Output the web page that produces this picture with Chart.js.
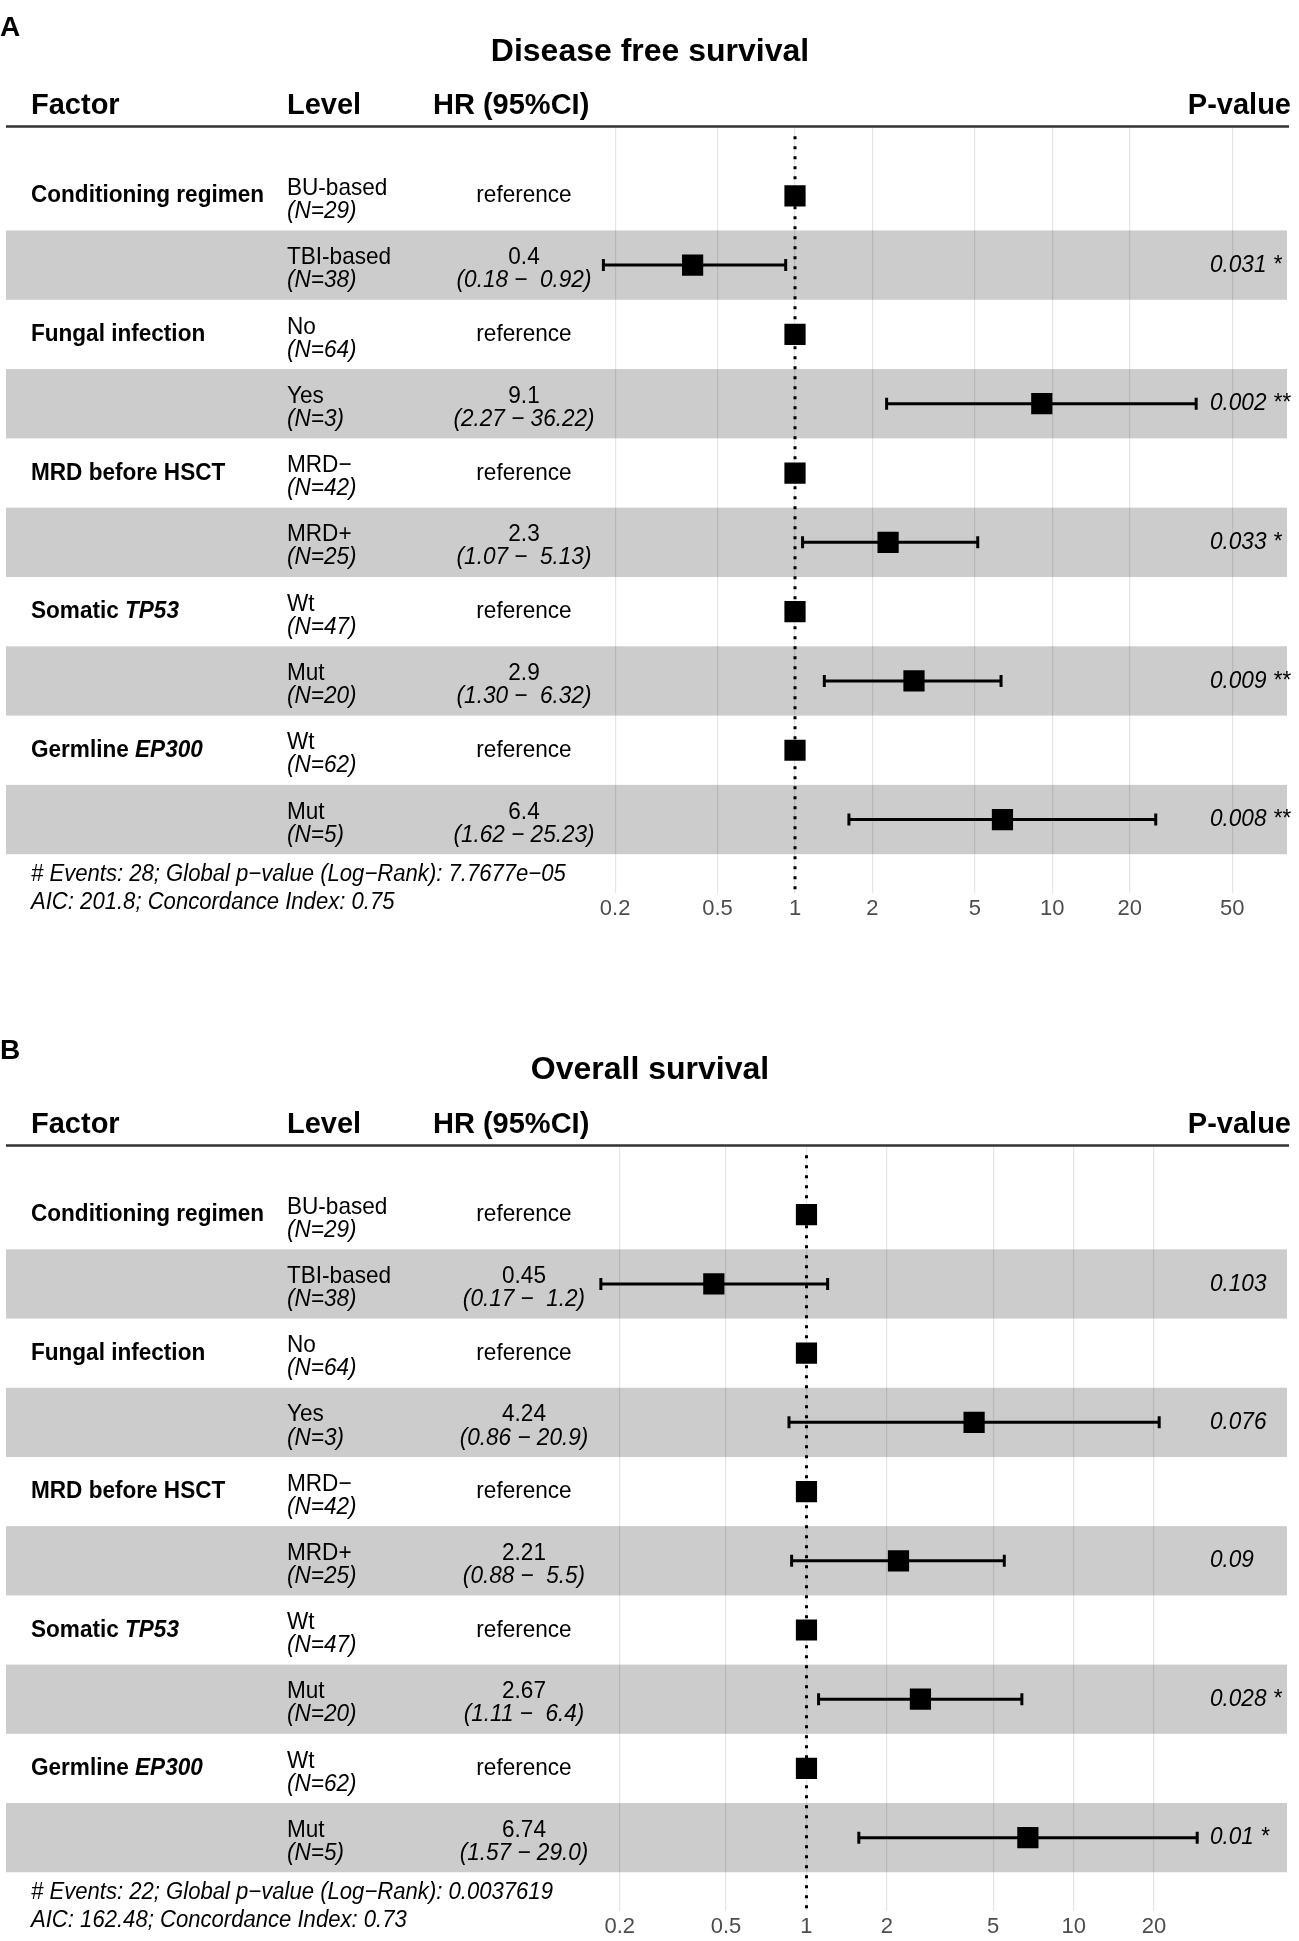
<!DOCTYPE html>
<html>
<head>
<meta charset="utf-8">
<script src="https://cdn.jsdelivr.net/npm/chart.js@4.4.1/dist/chart.umd.min.js"></script>
<style>
  body { margin: 0; background: #fff; }
  canvas { display: block; }
</style>
</head>
<body>
<canvas id="dfs" width="1299" height="1000"></canvas>
<canvas id="os" width="1299" height="941"></canvas>
<script>
const FONT = '"Liberation Sans", Arial, Helvetica, sans-serif';

// shared table columns
const factorNames = ['Conditioning regimen', 'Fungal infection', 'MRD before HSCT', 'Somatic ', 'Germline '];
const factorGenes = ['', '', '', 'TP53', 'EP300'];
const levels = ['BU-based', 'TBI-based', 'No', 'Yes', 'MRD\u2212', 'MRD+', 'Wt', 'Mut', 'Wt', 'Mut'];
const counts = [29, 38, 64, 3, 42, 25, 47, 20, 62, 5];

// A: disease free survival
const dfsHR = [1, 0.4, 1, 9.1, 1, 2.3, 1, 2.9, 1, 6.4];
const dfsLow = [null, 0.18, null, 2.27, null, 1.07, null, 1.30, null, 1.62];
const dfsHigh = [null, 0.92, null, 36.22, null, 5.13, null, 6.32, null, 25.23];
const dfsHRText = [null, '0.4', null, '9.1', null, '2.3', null, '2.9', null, '6.4'];
const dfsCIText = [null, '(0.18 \u2212  0.92)', null, '(2.27 \u2212 36.22)', null, '(1.07 \u2212  5.13)', null, '(1.30 \u2212  6.32)', null, '(1.62 \u2212 25.23)'];
const dfsP = [null, '0.031 *', null, '0.002 **', null, '0.033 *', null, '0.009 **', null, '0.008 **'];
const dfsFooter = ['# Events: 28; Global p\u2212value (Log\u2212Rank): 7.7677e\u221205', 'AIC: 201.8; Concordance Index: 0.75'];
const dfsTicks = [0.2, 0.5, 1, 2, 5, 10, 20, 50];

// B: overall survival
const osHR = [1, 0.45, 1, 4.24, 1, 2.21, 1, 2.67, 1, 6.74];
const osLow = [null, 0.17, null, 0.86, null, 0.88, null, 1.11, null, 1.57];
const osHigh = [null, 1.2, null, 20.9, null, 5.5, null, 6.4, null, 29.0];
const osHRText = [null, '0.45', null, '4.24', null, '2.21', null, '2.67', null, '6.74'];
const osCIText = [null, '(0.17 \u2212  1.2)', null, '(0.86 \u2212 20.9)', null, '(0.88 \u2212  5.5)', null, '(1.11 \u2212  6.4)', null, '(1.57 \u2212 29.0)'];
const osP = [null, '0.103', null, '0.076', null, '0.09', null, '0.028 *', null, '0.01 *'];
const osFooter = ['# Events: 22; Global p\u2212value (Log\u2212Rank): 0.0037619', 'AIC: 162.48; Concordance Index: 0.73'];
const osTicks = [0.2, 0.5, 1, 2, 5, 10, 20];

const SX = 0.94; // body text is a touch narrower than plain Arial

function txt(ctx, s, x, y, font, align, sx) {
  ctx.save();
  ctx.font = font;
  ctx.textAlign = align || 'left';
  ctx.textBaseline = 'middle';
  ctx.fillStyle = '#000';
  ctx.translate(x, y);
  ctx.scale(sx || 1, 1);
  ctx.fillText(s, 0, 0);
  ctx.restore();
}

function tablePlugin(p) {
  return {
    id: 'forestTable',
    beforeDraw(chart) {
      const ctx = chart.ctx, y = chart.scales.y;
      ctx.save();
      ctx.fillStyle = '#cccccc';
      for (let i = 1; i < levels.length; i += 2) {
        const top = y.getPixelForValue(i - 0.5), bot = y.getPixelForValue(i + 0.5);
        ctx.fillRect(6, top, 1281, bot - top);
      }
      ctx.restore();
    },
    afterDraw(chart) {
      const ctx = chart.ctx, y = chart.scales.y;
      txt(ctx, p.letter, 0, p.letterY, 'bold 28px ' + FONT);
      txt(ctx, p.title, 650, p.titleY, 'bold 32px ' + FONT, 'center');
      const hf = 'bold 29px ' + FONT;
      txt(ctx, 'Factor', 31, p.headerY, hf);
      txt(ctx, 'Level', 287, p.headerY, hf);
      txt(ctx, 'HR (95%CI)', 433, p.headerY, hf);
      txt(ctx, 'P-value', 1291, p.headerY, hf, 'right');
      ctx.save();
      ctx.strokeStyle = '#333';
      ctx.lineWidth = 2.5;
      ctx.beginPath();
      ctx.moveTo(6, p.lineY);
      ctx.lineTo(1289, p.lineY);
      ctx.stroke();
      ctx.restore();

      const body = '24px ' + FONT, ital = 'italic 24px ' + FONT, bf = 'bold 24px ' + FONT;
      for (let i = 0; i < levels.length; i++) {
        const cy = y.getPixelForValue(i);
        if (i % 2 === 0) {
          const f = i / 2;
          txt(ctx, factorNames[f], 31, cy, bf, 'left', SX);
          if (factorGenes[f]) {
            ctx.font = bf;
            const w = ctx.measureText(factorNames[f]).width * SX;
            txt(ctx, factorGenes[f], 31 + w, cy, 'italic bold 24px ' + FONT, 'left', SX);
          }
        }
        txt(ctx, levels[i], 287, cy - 7.5, body, 'left', SX);
        txt(ctx, '(N=' + counts[i] + ')', 287, cy + 15.5, ital, 'left', SX);
        if (p.hrText[i] === null) {
          txt(ctx, 'reference', 524, cy, body, 'center', SX);
        } else {
          txt(ctx, p.hrText[i], 524, cy - 7.5, body, 'center', SX);
          txt(ctx, p.ciText[i], 524, cy + 15.5, ital, 'center', SX);
        }
        if (p.pText[i]) txt(ctx, p.pText[i], 1210, cy, ital, 'left', SX);
      }
      txt(ctx, p.footer[0], 31, p.footerY[0], 'italic 23.5px ' + FONT, 'left', SX);
      txt(ctx, p.footer[1], 31, p.footerY[1], 'italic 23.5px ' + FONT, 'left', SX);
    }
  };
}

function forest(p) {
  const rows = p.hr.map((v, i) => i);
  const ciRows = rows.filter(i => p.low[i] !== null);
  const datasets = [
    {
      data: rows.map(i => ({ x: p.hr[i], y: i })),
      pointStyle: 'rect', pointRadius: 15, pointBackgroundColor: '#000', pointBorderWidth: 0
    },
    {
      data: ciRows.flatMap(i => [{ x: p.low[i], y: i }, { x: p.high[i], y: i }]),
      pointStyle: 'line', pointRotation: 90, pointRadius: 6, pointBorderColor: '#000', pointBorderWidth: 3
    }
  ];
  ciRows.forEach(i => datasets.push({
    data: [{ x: p.low[i], y: i }, { x: p.high[i], y: i }],
    showLine: true, borderColor: '#000', borderWidth: 3, pointRadius: 0
  }));
  datasets.push({
    data: [{ x: 1, y: -0.86 }, { x: 1, y: 10.06 }],
    showLine: true, borderColor: '#000', borderWidth: 3, borderDash: [3, 7], pointRadius: 0
  });

  return new Chart(document.getElementById(p.id), {
    type: 'scatter',
    data: { datasets },
    plugins: [tablePlugin(p)],
    options: {
      responsive: false,
      animation: false,
      events: [],
      layout: { padding: { left: 590, right: 19, top: p.lineY, bottom: p.bottomPad } },
      scales: {
        x: {
          type: 'logarithmic',
          min: p.xMin,
          max: p.xMax,
          afterBuildTicks: s => { s.ticks = p.ticks.map(v => ({ value: v })); },
          afterFit: s => { s.height = 30; },
          grid: { color: 'rgba(0,0,0,0.1)', lineWidth: 1.2, drawTicks: false },
          border: { display: false },
          ticks: {
            padding: 3, color: '#4d4d4d', autoSkip: false, maxRotation: 0,
            font: { family: FONT, size: 22 },
            callback: v => String(v)
          }
        },
        y: { type: 'linear', display: false, min: -1, max: 10.06, reverse: true }
      },
      plugins: { legend: { display: false }, tooltip: { enabled: false } }
    }
  });
}

forest({
  id: 'dfs', letter: 'A', title: 'Disease free survival',
  letterY: 28, titleY: 52.5, headerY: 105.5, lineY: 126.5, bottomPad: 77,
  xMin: 0.1597, xMax: 76.7, footerY: [874.5, 902],
  hr: dfsHR, low: dfsLow, high: dfsHigh, hrText: dfsHRText, ciText: dfsCIText,
  pText: dfsP, footer: dfsFooter, ticks: dfsTicks
});

forest({
  id: 'os', letter: 'B', title: 'Overall survival',
  letterY: 51.5, titleY: 70.5, headerY: 124.5, lineY: 145.5, bottomPad: 0,
  xMin: 0.1548, xMax: 59.2, footerY: [892.5, 920],
  hr: osHR, low: osLow, high: osHigh, hrText: osHRText, ciText: osCIText,
  pText: osP, footer: osFooter, ticks: osTicks
});
</script>
</body>
</html>
